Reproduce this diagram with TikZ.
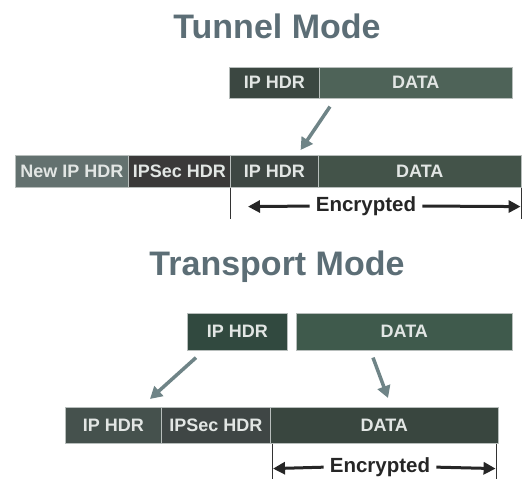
\documentclass[tikz,border=0pt]{standalone}
\usepackage{fontspec}
\setmainfont{Liberation Sans}
\usetikzlibrary{arrows.meta,calc}
\definecolor{titlec}{HTML}{5C6E76}
\definecolor{arrc}{HTML}{6F8487}
\definecolor{boxtext}{HTML}{E2E6E4}
\definecolor{sepc}{HTML}{B8BEBC}
\tikzset{
  pkt/.style={draw=sepc, line width=0.6pt, anchor=north west, inner sep=0pt,
    text=boxtext, font=\fontsize{18}{18}\selectfont\bfseries},
  ttl/.style={text=titlec, font=\fontsize{34}{34}\selectfont\bfseries, inner sep=0pt},
  enc/.style={text=black!85, font=\fontsize{20.5}{20.5}\selectfont\bfseries, inner sep=0pt, minimum height=22pt},
  encarr/.style={-{Triangle[width=12pt,length=12pt]}, line width=3pt, black!85, shorten <=6pt},
  tick/.style={black!80, line width=0.8pt},
  flow/.style={-{Triangle[width=13pt,length=12pt]}, line width=3.5pt, arrc},
}
\begin{document}
\begin{tikzpicture}[x=1pt,y=-1pt]
\useasboundingbox (0,0) rectangle (531,481);
% Tunnel mode
\node[ttl] (ttitle) at (277,26) {Tunnel Mode};
\node[pkt, fill={rgb,255:red,59;green,71;blue,65}, minimum width=90pt, minimum height=31pt] (tip) at (229,67) {IP HDR};
\node[pkt, fill={rgb,255:red,78;green,99;blue,88}, minimum width=193pt, minimum height=31pt] (tdata) at (319,67) {DATA};
\node[pkt, fill={rgb,255:red,99;green,113;blue,111}, minimum width=113pt, minimum height=32pt] (nnew) at (15,155) {New IP HDR};
\node[pkt, fill={rgb,255:red,58;green,57;blue,57}, minimum width=102pt, minimum height=32pt] (nsec) at (128,155) {IPSec HDR};
\node[pkt, fill={rgb,255:red,62;green,71;blue,67}, minimum width=88pt, minimum height=32pt] (nip) at (230,155) {IP HDR};
\node[pkt, fill={rgb,255:red,67;green,83;blue,73}, minimum width=203pt, minimum height=32pt] (ndata) at (318,155) {DATA};
\draw[flow] ($(tdata.south west)+(11,8)$) -- ($(nip.north east)+(-18,-5)$);
\draw[tick] (nip.south west) -- ++(0,31);
\draw[tick] (ndata.south east) -- ++(0,31);
\node[enc] (tenc) at (366,206) {Encrypted};
\draw[encarr] (tenc.west) -- ($(nip.south west)+(18,19)$);
\draw[encarr] (tenc.east) -- ($(ndata.south east)+(-1,19)$);
% Transport mode
\node[ttl] (ptitle) at (277,267) {Transport Mode};
\node[pkt, fill={rgb,255:red,49;green,73;blue,63}, minimum width=100pt, minimum height=37pt] (pip) at (187,313) {IP HDR};
\node[pkt, fill={rgb,255:red,63;green,90;blue,76}, minimum width=216pt, minimum height=37pt] (pdata) at (296,313) {DATA};
\node[pkt, fill={rgb,255:red,69;green,81;blue,77}, minimum width=96pt, minimum height=36pt] (bip) at (65,407) {IP HDR};
\node[pkt, fill={rgb,255:red,63;green,70;blue,69}, minimum width=109pt, minimum height=36pt] (bsec) at (161,407) {IPSec HDR};
\node[pkt, fill={rgb,255:red,57;green,70;blue,63}, minimum width=228pt, minimum height=36pt] (bdata) at (270,407) {DATA};
\draw[flow] ($(pip.south west)+(9,7)$) -- ($(bip.north west)+(85,-8)$);
\draw[flow] ($(pdata.south west)+(77,7)$) -- ($(bdata.north west)+(118,-9)$);
\draw[tick] ($(bdata.south west)+(2,0)$) -- ++(0,35);
\draw[tick] ($(bdata.south east)+(-2,0)$) -- ++(0,35);
\node[enc] (benc) at (380,467) {Encrypted};
\draw[encarr] (benc.west) -- ($(bdata.south west)+(3,25)$);
\draw[encarr] (benc.east) -- ($(bdata.south east)+(-3,25)$);
\end{tikzpicture}
\end{document}
